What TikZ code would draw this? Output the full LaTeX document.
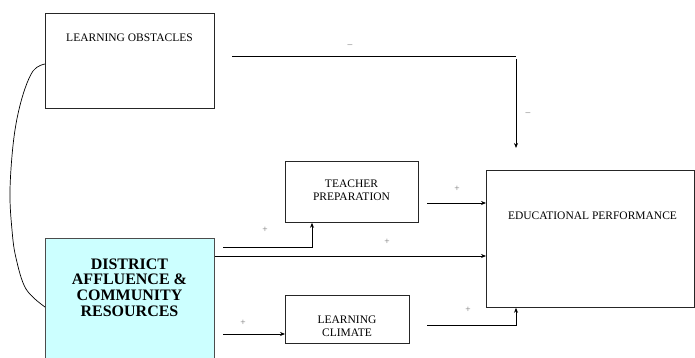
\documentclass[tikz,border=0pt]{standalone}
\usepackage{fontspec}
\setmainfont{Liberation Serif}
\usetikzlibrary{arrows.meta}
\definecolor{cyanfill}{HTML}{CCFFFF}
\begin{document}
\begin{tikzpicture}[x=1pt,y=-1pt,
  boxnode/.style={draw=black!85,line width=0.8pt,inner sep=0pt,anchor=north west},
  lbl/.style={font=\fontsize{11.5}{13.2}\selectfont,align=center,inner sep=0pt},
  sign/.style={font=\fontsize{9.5}{9.5}\selectfont,text=black!55,inner sep=0pt},
  conn/.style={line width=0.75pt,-{Stealth[length=5pt,width=4pt]}},
  plain/.style={line width=0.8pt}]
\useasboundingbox (0,0) rectangle (695,358);
% boxes
\node[boxnode,minimum width=169pt,minimum height=95pt] (lo) at (45,13) {};
\node[lbl] (lot) at (129.5,38) {LEARNING OBSTACLES};
\node[boxnode,minimum width=208pt,minimum height=137pt] (ep) at (486,170) {};
\node[lbl] (ept) at (592.5,216) {EDUCATIONAL PERFORMANCE};
\node[boxnode,fill=cyanfill,draw=black!70,minimum width=169pt,minimum height=125pt] (da) at (45,238) {};
\node[lbl,font=\fontsize{16}{15.7}\selectfont\bfseries] (dat) at (129.5,287.5) {DISTRICT\\AFFLUENCE \&\\COMMUNITY\\RESOURCES};
\node[boxnode,minimum width=133pt,minimum height=61pt] (tp) at (285,161) {};
\node[lbl] (tpt) at (351.5,190.5) {TEACHER\\PREPARATION};
\node[boxnode,minimum width=124pt,minimum height=48pt] (lc) at (285,295) {};
\node[lbl] (lct) at (347,326) {LEARNING\\CLIMATE};
% free end coordinates
\coordinate (c1) at (232,56);
\coordinate (c2) at (516,56);
\coordinate (c3) at (516,59);
\coordinate (c4) at (516,148);
\coordinate (c5) at (223,247);
\coordinate (c6) at (427,203);
\coordinate (c7) at (223,334);
\coordinate (c8) at (427,325);
\coordinate (k1) at (lo.west |- 0,64);
\coordinate (k2) at (da.west |- 0,307);
% connectors
\draw[plain] (c1) -- (c2);
\draw[conn] (c3) -- (c4);
\draw[conn] (c5) -| (tp.south -| 312,0);
\draw[conn] (da.east |- 0,256) -- (ep.west |- 0,256);
\draw[conn] (c6) -- (ep.west |- c6);
\draw[conn] (c7) -- (lc.west |- c7);
\draw[conn] (c8) -| (ep.south -| 516,0);
\draw[line width=0.7pt] plot[smooth,tension=0.6] coordinates {(k1) (33,71) (22,98) (14,137) (10,190) (12,230) (16,258) (26,289) (k2)};
% signs
\node[sign] (s1) at (350,46) {--};
\node[sign] (s2) at (528,114) {--};
\node[sign] (s3) at (265,230) {+};
\node[sign] (s4) at (387,242) {+};
\node[sign] (s5) at (457,189) {+};
\node[sign] (s6) at (243,323) {+};
\node[sign] (s7) at (468,310) {+};
\end{tikzpicture}
\end{document}
